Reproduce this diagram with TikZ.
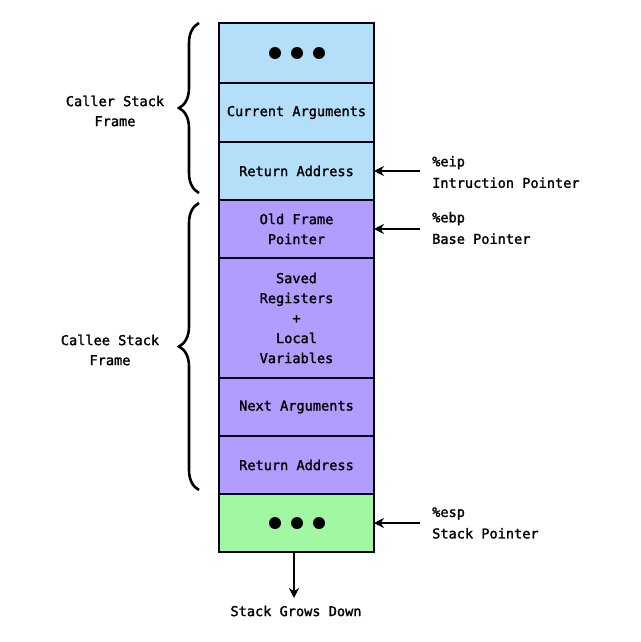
\documentclass[tikz,border=0pt]{standalone}
\usepackage{fontspec}
\setmonofont[FakeBold=1.6]{DejaVu Sans Mono}
\usetikzlibrary{decorations.pathreplacing,arrows.meta}
\definecolor{cblue}{RGB}{179,224,248}
\definecolor{cpurple}{RGB}{178,157,255}
\definecolor{cgreen}{RGB}{162,248,162}
\tikzset{
  cell/.style={draw=black!90!blue, line width=1.6pt, minimum width=155pt, inner sep=0pt, outer sep=0pt, align=center, font=\ttfamily\fontsize{13.6}{20}\selectfont},
  lbl/.style={align=left, anchor=west, inner sep=0pt, font=\ttfamily\fontsize{13.6}{21.5}\selectfont},
  side/.style={align=center, inner sep=0pt, font=\ttfamily\fontsize{13.6}{20}\selectfont},
  ptr/.style={-{Stealth[length=10pt,width=10pt]}, line width=2.4pt},
  brc/.style={decorate, decoration={brace, amplitude=20pt}, line width=2.6pt},
  dot/.style={fill=black}
}
\begin{document}
\begin{tikzpicture}[x=1pt,y=-1pt]
\useasboundingbox (0,0) rectangle (640,642);
\fill[white] (0,0) rectangle (640,642);
% stack cells
\node[cell, fill=cblue, minimum height=60pt] (top) at (296.5,53) {};
\node[cell, fill=cblue, minimum height=59pt] (curargs) at (296.5,112.5) {Current Arguments};
\node[cell, fill=cblue, minimum height=58pt] (ret1) at (296.5,171) {Return Address};
\node[cell, fill=cpurple, minimum height=58pt] (oldfp) at (296.5,229) {Old Frame\\Pointer};
\node[cell, fill=cpurple, minimum height=120pt] (saved) at (296.5,318) {Saved\\Registers\\+\\Local\\Variables};
\node[cell, fill=cpurple, minimum height=58pt] (nextargs) at (296.5,407) {Next Arguments};
\node[cell, fill=cpurple, minimum height=58pt] (ret2) at (296.5,465) {Return Address};
\node[cell, fill=cgreen, minimum height=58pt] (bottom) at (296.5,523) {};
% dots
\foreach \x in {275,297,319} {
  \fill[dot] (\x,53) circle (6pt);
  \fill[dot] (\x,523) circle (6pt);
}
% pointer labels
\node[lbl] (eip) at (432,172) {\%eip\\Intruction Pointer};
\node[lbl] (ebp) at (432,228) {\%ebp\\Base Pointer};
\node[lbl] (esp) at (432,523) {\%esp\\Stack Pointer};
\draw[ptr] ([xshift=-12pt]eip.west |- ret1.east) -- (ret1.east);
\draw[ptr] ([xshift=-12pt]ebp.west |- oldfp.east) -- (oldfp.east);
\draw[ptr] ([xshift=-12pt]esp.west |- bottom.east) -- (bottom.east);
% grows down
\node[side] (grows) at (296,611) {Stack Grows Down};
\coordinate (growtip) at (294,598);
\draw[ptr] (294,552) -- (growtip);
% braces
\coordinate (cb1) at (199,193);
\coordinate (ct1) at (199,23);
\coordinate (cb2) at (199,490);
\coordinate (ct2) at (199,203);
\draw[brc] (cb1) -- (ct1);
\draw[brc] (cb2) -- (ct2);
\node[side] (caller) at (115,111) {Caller Stack\\Frame};
\node[side] (callee) at (110,350) {Callee Stack\\Frame};
\end{tikzpicture}
\end{document}
